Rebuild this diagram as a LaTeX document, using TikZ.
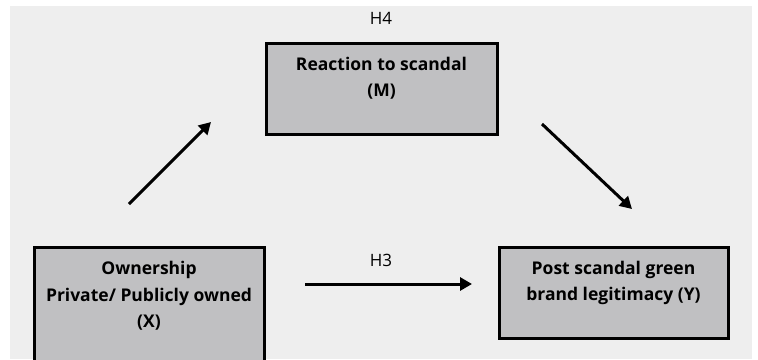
\documentclass[tikz,border=0pt]{standalone}
\usepackage{fontspec}
\setmainfont{Open Sans}
\usetikzlibrary{arrows.meta}
\definecolor{bg}{HTML}{EEEEEE}
\definecolor{boxfill}{HTML}{C0C0C2}
\begin{document}
\begin{tikzpicture}[x=1pt,y=-1pt,
  varbox/.style={draw=black,line width=3pt,fill=boxfill},
  vartext/.style={anchor=north,align=center,font=\fontsize{17.5}{26.5}\selectfont\bfseries,inner sep=0pt},
  hlabel/.style={font=\fontsize{17}{20}\selectfont},
  conn/.style={line width=3pt,-{Triangle[length=12pt,width=13pt]}}]
\useasboundingbox (0,0) rectangle (758,359);
\fill[bg] (10,6) rectangle (752,359);
\begin{scope}
\clip (10,6) rectangle (752,359);
\draw[varbox] (266,43) rectangle (497,134);
\draw[varbox] (34,247) rectangle (264,400);
\draw[varbox] (499,247) rectangle (728,338);
\end{scope}
\node[vartext] (mt) at (381.5,57) {Reaction to scandal\\(M)};
\node[vartext] (xt) at (149,261) {Ownership\\Private/ Publicly owned\\(X)};
\node[vartext] (yt) at (613.5,261) {Post scandal green\\brand legitimacy (Y)};
\node[hlabel] (h4) at (381,18) {H4};
\node[hlabel] (h3) at (381,260) {H3};
\coordinate (a1s) at (129,204);
\coordinate (a1e) at (211,122);
\coordinate (a2s) at (542,124);
\coordinate (a2e) at (632,209);
\coordinate (a3s) at (305,284);
\coordinate (a3e) at (472,284);
\draw[conn] (a1s) -- (a1e);
\draw[conn] (a2s) -- (a2e);
\draw[conn] (a3s) -- (a3e);
\end{tikzpicture}
\end{document}
